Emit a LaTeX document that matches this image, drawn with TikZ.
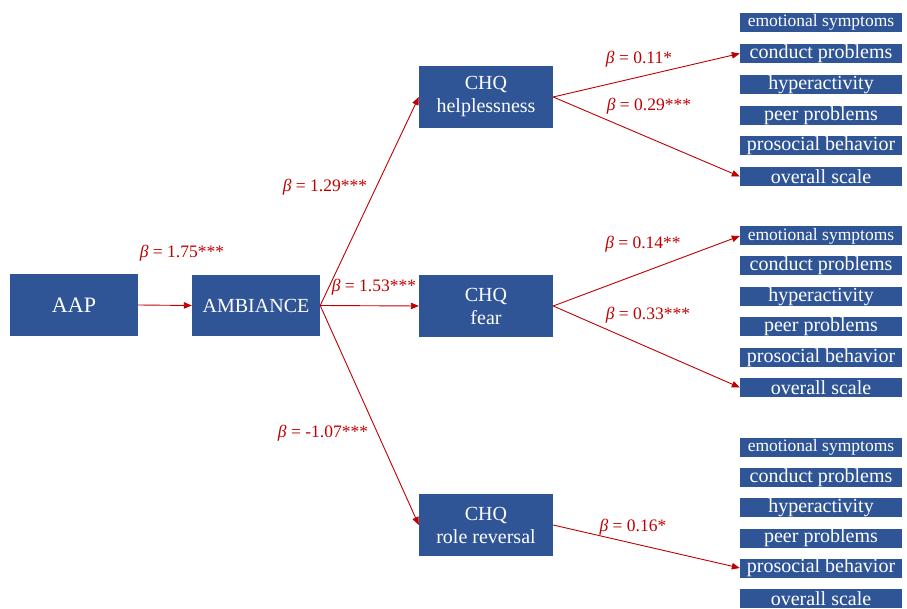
\documentclass[tikz,border=0pt]{standalone}
\usepackage{fontspec}
\setmainfont{Liberation Serif}
\usetikzlibrary{arrows.meta}
\definecolor{boxblue}{HTML}{2F5597}
\definecolor{pathred}{HTML}{C00000}
\tikzset{
  mainbox/.style={rectangle, fill=boxblue, text=white, inner sep=0pt, align=center,
    minimum width=134pt, minimum height=62pt, font=\fontsize{20}{23}\selectfont},
  outbox/.style={rectangle, fill=boxblue, text=white, inner sep=0pt,
    minimum width=162pt, minimum height=19pt, font=\fontsize{20}{20}\selectfont},
  smallout/.style={outbox, font=\fontsize{17.5}{18}\selectfont},
  path/.style={draw=pathred, line width=0.9pt, -{Triangle[length=8pt,width=6.5pt]}},
  beta/.style={text=pathred, font=\fontsize{17.5}{19}\selectfont, inner sep=0pt}
}
\begin{document}
\begin{tikzpicture}[x=1pt,y=-1pt]
\useasboundingbox (0,0) rectangle (907,609);
\clip (0,0) rectangle (907,609);
\node[mainbox, minimum width=128pt, font=\fontsize{22}{24}\selectfont] (aap) at (74,305) {AAP};
\node[mainbox, minimum width=128pt, minimum height=61pt] (amb) at (256,305.5) {AMBIANCE};
\node[mainbox] (help) at (486,97) {CHQ\\helplessness};
\node[mainbox] (fear) at (486,306) {CHQ\\fear};
\node[mainbox] (role) at (486,525) {CHQ\\role reversal};
% group 1
\node[smallout] (e1) at (821,22.5) {emotional symptoms};
\node[outbox] (c1) at (821,53.5) {conduct problems};
\node[outbox] (h1) at (821,84.5) {hyperactivity};
\node[outbox] (p1) at (821,115.5) {peer problems};
\node[outbox] (s1) at (821,146) {prosocial behavior};
\node[outbox] (o1) at (821,176.5) {overall scale};
% group 2
\node[smallout] (e2) at (821,236) {emotional symptoms};
\node[outbox] (c2) at (821,266) {conduct problems};
\node[outbox] (h2) at (821,296.5) {hyperactivity};
\node[outbox] (p2) at (821,327) {peer problems};
\node[outbox] (s2) at (821,357.5) {prosocial behavior};
\node[outbox] (o2) at (821,387.5) {overall scale};
% group 3
\node[smallout] (e3) at (821,447.5) {emotional symptoms};
\node[outbox] (c3) at (821,477.5) {conduct problems};
\node[outbox] (h3) at (821,507.5) {hyperactivity};
\node[outbox] (p3) at (821,538) {peer problems};
\node[outbox] (s3) at (821,568) {prosocial behavior};
\node[outbox] (o3) at (821,598.5) {overall scale};
% paths
\draw[path] (aap.east) -- (amb.west);
\draw[path] (amb.east) -- (help.west);
\draw[path] (amb.east) -- (fear.west);
\draw[path] (amb.east) -- (role.west);
\draw[path] (help.east) -- (c1.west);
\draw[path] (help.east) -- (o1.west);
\draw[path] (fear.east) -- (e2.west);
\draw[path] (fear.east) -- (o2.west);
\draw[path] (role.east) -- (s3.west);
% labels
\node[beta] (b1) at (182,253) {\textit{β} = 1.75***};
\node[beta] (b2) at (325,187) {\textit{β} = 1.29***};
\node[beta] (b3) at (374,287) {\textit{β} = 1.53***};
\node[beta] (b4) at (323,433) {\textit{β} = -1.07***};
\node[beta] (b5) at (639,59) {\textit{β} = 0.11*};
\node[beta] (b6) at (649,106) {\textit{β} = 0.29***};
\node[beta] (b7) at (643,244) {\textit{β} = 0.14**};
\node[beta] (b8) at (648,315) {\textit{β} = 0.33***};
\node[beta] (b9) at (633,527) {\textit{β} = 0.16*};
\end{tikzpicture}
\end{document}
